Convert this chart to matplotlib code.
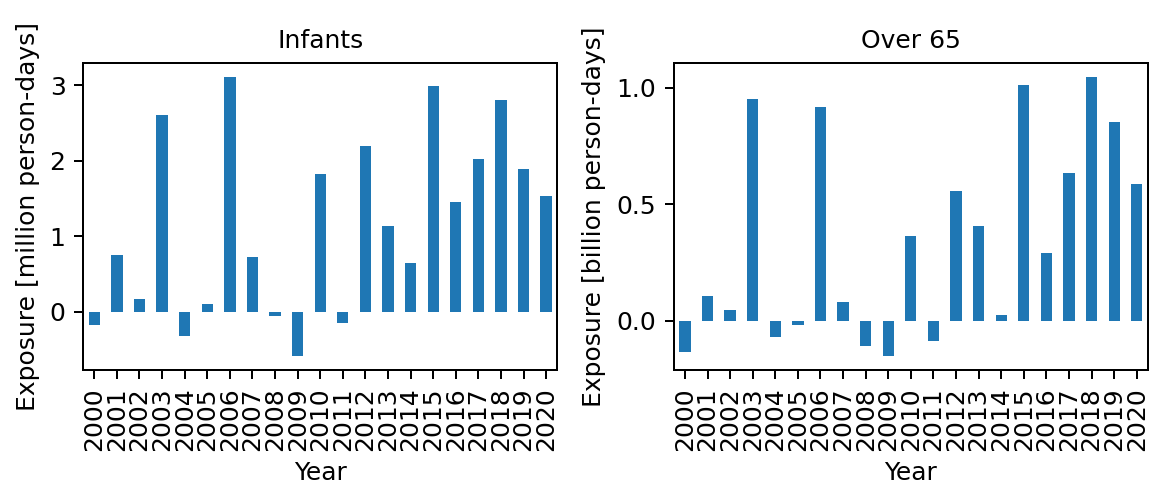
import numpy as np
import pandas as pd
import matplotlib
matplotlib.use('Agg')
import matplotlib.pyplot as plt
from matplotlib.ticker import MultipleLocator

years = list(range(2000, 2021))
infants = [-0.17, 0.75, 0.17, 2.61, -0.32, 0.10, 3.11, 0.725, -0.06, -0.59, 1.83,
           -0.15, 2.19, 1.13, 0.65, 2.99, 1.46, 2.02, 2.81, 1.89, 1.53]
over65 = [-0.134, 0.106, 0.046, 0.950, -0.069, -0.020, 0.917, 0.082, -0.111, -0.153, 0.364,
          -0.086, 0.557, 0.406, 0.024, 1.012, 0.288, 0.633, 1.045, 0.852, 0.588]

df = pd.DataFrame({'Infants': infants, 'Over 65': over65}, index=pd.Index(years, name='Year'))

plt.rcParams['axes.titlesize'] = 10

fig, axs = plt.subplots(1, 2, figsize=(1153/180, 493/180), dpi=180)
fig.subplots_adjust(left=0.072, right=0.9957, top=0.872, bottom=0.249, wspace=0.245)

df['Infants'].plot.bar(ax=axs[0])
axs[0].set_title('Infants')
axs[0].set_ylabel('Exposure [million person-days]')

df['Over 65'].plot.bar(ax=axs[1])
axs[1].set_title('Over 65')
axs[1].set_ylabel('Exposure [billion person-days]')
axs[1].yaxis.set_major_locator(MultipleLocator(0.5))

fig.savefig('out.png', dpi=180)
